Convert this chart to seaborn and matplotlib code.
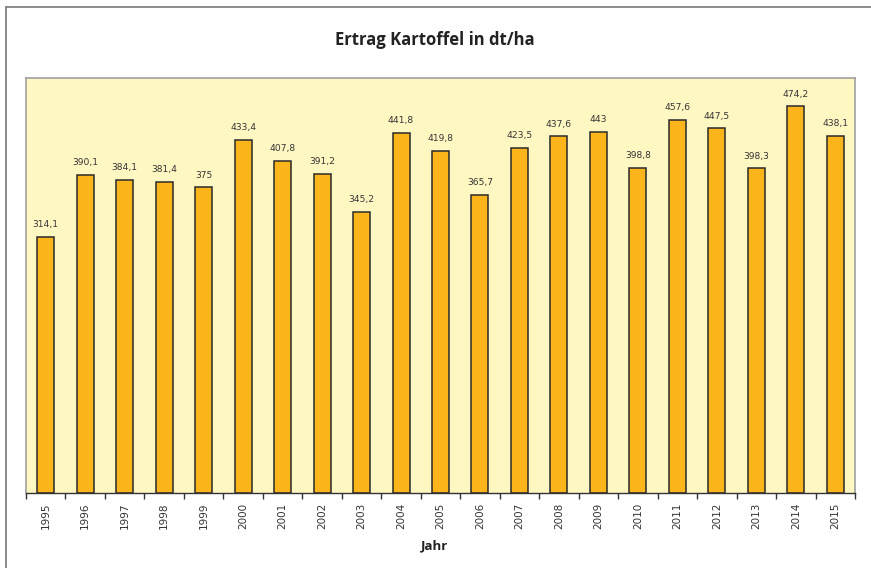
import matplotlib
matplotlib.use("Agg")
import matplotlib.pyplot as plt
import seaborn as sns
import pandas as pd
import numpy as np
from matplotlib.lines import Line2D

years = ["1995", "1996", "1997", "1998", "1999", "2000", "2001", "2002", "2003", "2004",
         "2005", "2006", "2007", "2008", "2009", "2010", "2011", "2012", "2013", "2014", "2015"]
ertrag = [314.1, 390.1, 384.1, 381.4, 375.0, 433.4, 407.8, 391.2, 345.2, 441.8,
          419.8, 365.7, 423.5, 437.6, 443.0, 398.8, 457.6, 447.5, 398.3, 474.2, 438.1]
labels = ["314,1", "390,1", "384,1", "381,4", "375", "433,4", "407,8", "391,2", "345,2", "441,8",
          "419,8", "365,7", "423,5", "437,6", "443", "398,8", "457,6", "447,5", "398,3", "474,2", "438,1"]

df = pd.DataFrame({"Jahr": years, "Ertrag": ertrag})

sns.set_style("white")
plt.rcParams['font.family'] = ['DejaVu Sans']

fig = plt.figure(figsize=(8.71, 5.68), dpi=100)
ax = fig.add_axes([26/871, 1-493/568, (855-26)/871, (493-78)/568])
ax.set_facecolor("#FFF7C2")

sns.barplot(data=df, x="Jahr", y="Ertrag", ax=ax, color="#FBB41A", width=0.43,
            edgecolor="#2a2a2a", linewidth=1.1, saturation=1)

for i, (v, lab) in enumerate(zip(ertrag, labels)):
    ax.annotate(lab, (i, v), xytext=(0, 5.5), textcoords="offset points",
                ha="center", va="bottom", fontsize=6.6, color="#333333")

ax.set_xlim(-0.5, len(years) - 0.5)
ax.set_ylim(0, 509)
ax.set_yticks([])
ax.set_ylabel("")
ax.set_xlabel("")

for s in ["left", "top", "right"]:
    ax.spines[s].set_color("#a0a0a0")
    ax.spines[s].set_linewidth(1.2)
ax.spines["bottom"].set_color("#333333")
ax.spines["bottom"].set_linewidth(1.0)

ax.set_xticks(range(len(years)))
ax.set_xticklabels(years, rotation=90, fontsize=7.5, color="#333333")
ax.tick_params(axis="x", which="major", bottom=True, length=0, pad=7)
ax.set_xticks(np.arange(-0.5, len(years), 1.0), minor=True)
ax.tick_params(axis="x", which="minor", bottom=True, length=4, width=1, color="#333333", direction="out")

fig.text(435/871, 1-40/568, "Ertrag Kartoffel in dt/ha", ha="center", va="center",
         fontsize=12, fontweight="bold", color="#222222", family=["Open Sans", "DejaVu Sans"])
fig.text(435/871, 1-546/568, "Jahr", ha="center", va="center",
         fontsize=9.5, fontweight="bold", color="#222222", family=["Open Sans", "DejaVu Sans"])

# outer frame (left and top edges visible)
fig.add_artist(Line2D([6/871, 6/871], [0, 1-7/568], transform=fig.transFigure, color="#777777", lw=1.2))
fig.add_artist(Line2D([6/871, 1], [1-7/568, 1-7/568], transform=fig.transFigure, color="#777777", lw=1.2))

fig.savefig("out.png", dpi=100)
